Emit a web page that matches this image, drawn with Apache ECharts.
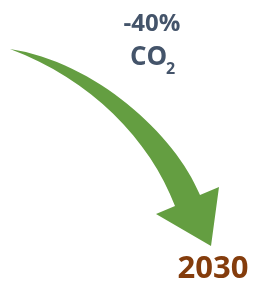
<!DOCTYPE html>
<html>
<head>
<meta charset="utf-8">
<script src="https://cdn.jsdelivr.net/npm/echarts@6/dist/echarts.min.js"></script>
<style>
  html, body { margin: 0; padding: 0; background: #fff; }
  #chart { width: 254px; height: 283px; }
</style>
</head>
<body>
<div id="chart"></div>
<script>
// arrow outline (pixel units of the 254x283 frame)
// outer edge: cubic curve from the tail to the head (start, ctrl1, ctrl2, end)
const outerX = [10, 95, 175, 200]
const outerY = [49, 62, 134, 195]
// arrow head: right corner, tip, left corner, inner notch
const headX = [219, 211, 156, 175]
const headY = [187, 246, 214, 206]
// inner edge: cubic curve from the notch back to the tail
const innerX = [175, 150, 91, 10]
const innerY = [206, 140, 79, 49]

const reduction = '-40%'
const gas = 'CO'
const gasSub = '2'
const year = '2030'

const chart = echarts.init(document.getElementById('chart'))

chart.setOption({
  animation: false,
  grid: { left: 0, right: 0, top: 0, bottom: 0 },
  xAxis: { type: 'value', min: 0, max: 254, show: false },
  yAxis: { type: 'value', min: 0, max: 283, inverse: true, show: false },
  series: [{
    type: 'custom',
    data: [0],
    renderItem(params, api) {
      const p = (x, y) => api.coord([x, y]).join(' ')
      let d = 'M' + p(outerX[0], outerY[0])
      d += ' C' + [1, 2, 3].map(i => p(outerX[i], outerY[i])).join(' ')
      headX.forEach((x, i) => { d += ' L' + p(x, headY[i]) })
      d += ' C' + [1, 2, 3].map(i => p(innerX[i], innerY[i])).join(' ')
      d += ' Z'
      return {
        type: 'path',
        shape: { pathData: d },
        style: { fill: '#649E41' }
      }
    }
  }],
  graphic: [
    {
      type: 'text',
      x: 152, y: 24,
      style: {
        text: reduction,
        align: 'center', verticalAlign: 'middle',
        font: 'bold 24px "Open Sans"',
        fill: '#44546A'
      }
    },
    {
      type: 'text',
      x: 130, y: 58,
      style: {
        text: gas,
        align: 'left', verticalAlign: 'middle',
        font: 'bold 26px "Open Sans"',
        fill: '#44546A'
      }
    },
    {
      type: 'text',
      x: 166, y: 69,
      style: {
        text: gasSub,
        align: 'left', verticalAlign: 'middle',
        font: 'bold 16px "Open Sans"',
        fill: '#44546A'
      }
    },
    {
      type: 'text',
      x: 213, y: 269,
      style: {
        text: year,
        align: 'center', verticalAlign: 'middle',
        font: 'bold 31px "Open Sans"',
        fill: '#843C0C'
      }
    }
  ]
})
</script>
</body>
</html>
